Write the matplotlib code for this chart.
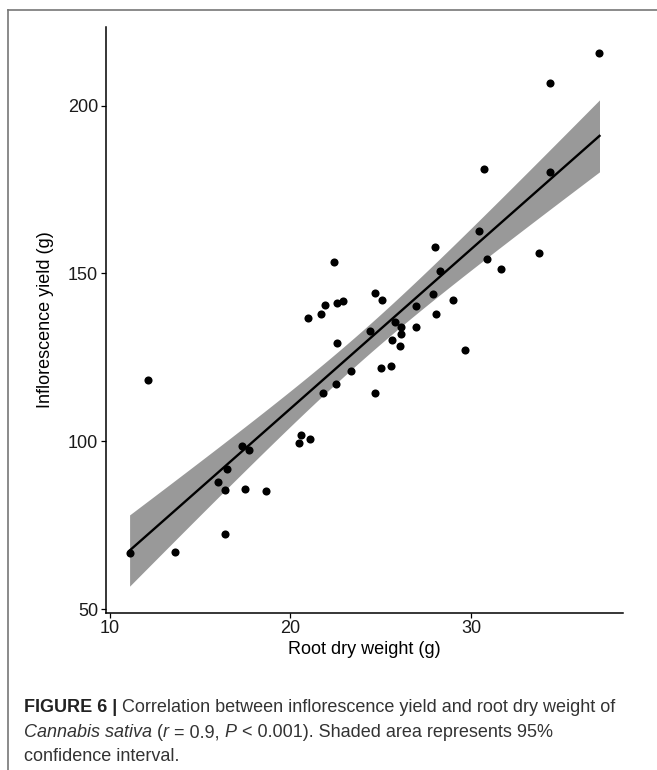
import numpy as np
import matplotlib.pyplot as plt
from matplotlib.lines import Line2D

# root dry weight (g) and inflorescence yield (g)
root_dry_weight = [11.1, 12.1, 13.6, 16.0, 16.5, 16.4, 16.4, 17.3, 17.7, 17.5,
                   18.65, 20.5, 20.6, 21.1, 21.0, 21.7, 21.9, 21.8, 22.4, 22.6,
                   22.9, 22.6, 22.55, 23.36, 24.4, 24.7, 25.1, 25.0, 24.7, 25.6,
                   25.64, 25.8, 26.15, 26.15, 26.05, 26.96, 26.94, 27.9, 28.0, 28.05,
                   28.28, 29.03, 29.65, 30.44, 30.74, 30.9, 31.65, 33.78, 34.39, 34.39,
                   37.12]
inflorescence_yield = [66.8, 118.3, 67.1, 87.8, 91.6, 85.5, 72.5, 98.5, 97.3, 85.8,
                       85.2, 99.6, 101.9, 100.7, 136.6, 137.8, 140.5, 114.5, 153.4, 141.2,
                       141.9, 129.3, 117.1, 121.0, 132.8, 144.2, 142.0, 121.8, 114.5, 122.5,
                       130.2, 135.4, 134.0, 132.1, 128.3, 140.4, 134.0, 143.9, 158.0, 137.8,
                       150.7, 142.0, 127.1, 162.7, 181.0, 154.2, 151.4, 156.1, 206.6, 180.2,
                       215.7]

xticks = [10, 20, 30]
yticks = [50, 100, 150, 200]

x = np.array(root_dry_weight)
y = np.array(inflorescence_yield)
n = len(x)

# linear fit and 95% confidence band (t for df = n - 2)
slope, intercept = np.polyfit(x, y, 1)
resid = y - (slope * x + intercept)
s_err = np.sqrt(np.sum(resid ** 2) / (n - 2))
t_val = 2.0096
xs = np.linspace(x.min(), x.max(), 200)
ys = slope * xs + intercept
se = s_err * np.sqrt(1 / n + (xs - x.mean()) ** 2 / np.sum((x - x.mean()) ** 2))

plt.rcParams['font.family'] = ['Liberation Sans', 'DejaVu Sans']

fig = plt.figure(figsize=(6.57, 7.7), dpi=100)
ax = fig.add_axes([0.1607, 0.2045, 0.7875, 0.7605])

ax.fill_between(xs, ys - t_val * se, ys + t_val * se, color='#999999', lw=0, zorder=1)
ax.scatter(x, y, s=34, color='black', lw=0, zorder=3)
ax.plot(xs, ys, color='black', lw=1.7, zorder=2)

ax.set_xlim(9.77, 38.42)
ax.set_ylim(49.0, 223.4)
ax.set_xticks(xticks)
ax.set_yticks(yticks)
ax.spines['top'].set_visible(False)
ax.spines['right'].set_visible(False)
for s in ['left', 'bottom']:
    ax.spines[s].set_linewidth(1.1)
ax.tick_params(length=3.5, width=0.9, labelsize=13, labelcolor='#1a1a1a', pad=2)
ax.set_xlabel('Root dry weight (g)', fontsize=13, labelpad=3)
ax.set_ylabel('Inflorescence yield (g)', fontsize=13, labelpad=10)

# frame lines at top and left of the figure
fig.add_artist(Line2D([8 / 657, 1], [1 - 10 / 770, 1 - 10 / 770], color='#777777', lw=1.2))
fig.add_artist(Line2D([8 / 657, 8 / 657], [0, 1 - 10 / 770], color='#777777', lw=1.2))

# caption with mixed styles
cap_color = '#333333'
cap_size = 13.0
lines = [
    [('FIGURE 6 |', 'bold', 'normal'),
     (' Correlation between inflorescence yield and root dry weight of', 'normal', 'normal')],
    [('Cannabis sativa', 'normal', 'italic'), (' (', 'normal', 'normal'), ('r', 'normal', 'italic'),
     (' = 0.9, ', 'normal', 'normal'), ('P', 'normal', 'italic'),
     (' < 0.001). Shaded area represents 95%', 'normal', 'normal')],
    [('confidence interval.', 'normal', 'normal')],
]
baselines = [712, 737, 761]
fig.canvas.draw()
renderer = fig.canvas.get_renderer()
for parts, base in zip(lines, baselines):
    xpos = 24
    for txt, weight, style in parts:
        t = fig.text(xpos / 657, 1 - base / 770, txt, fontsize=cap_size, fontweight=weight,
                     fontstyle=style, color=cap_color if weight == 'normal' else '#222222',
                     va='baseline', ha='left')
        bb = t.get_window_extent(renderer=renderer)
        xpos += bb.width

fig.savefig('out.png', dpi=100)
